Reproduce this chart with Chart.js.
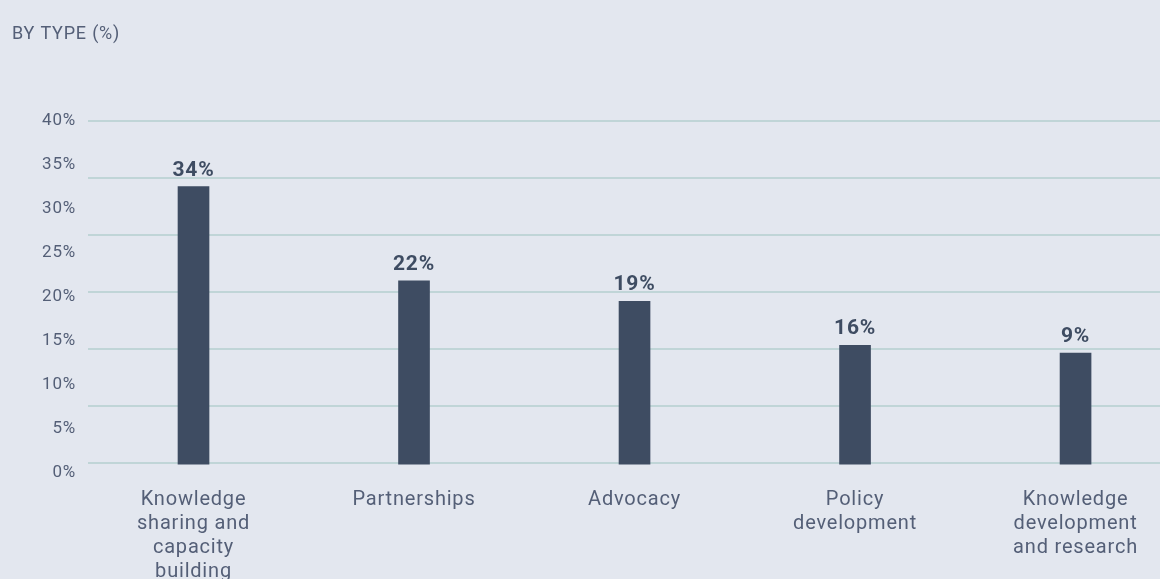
<!DOCTYPE html>
<html>
<head>
<meta charset="utf-8">
<script src="https://cdn.jsdelivr.net/npm/chart.js@4"></script>
<style>
  html, body { margin: 0; padding: 0; background: #e3e7ef; overflow: hidden; }
  #wrap { width: 1160px; height: 579px; }
</style>
</head>
<body>
<div id="wrap"><canvas id="chart"></canvas></div>
<script>
// categories shown under the bars
const categories = [
    ['Knowledge', 'sharing and', 'capacity', 'building'],
    ['Partnerships'],
    ['Advocacy'],
    ['Policy', 'development'],
    ['Knowledge', 'development', 'and research']
];
// printed values above the bars
const valueLabels = ['34%', '22%', '19%', '16%', '9%'];
// bar heights as drawn, read against the left % axis
const barHeights = [32.5, 21.8, 19.5, 14.5, 13.6];
const barBase = 1.0;
// left axis tick labels
const yTicks = [0, 5, 10, 15, 20, 25, 30, 35, 40];
// horizontal guide lines (separate, evenly spaced)
const guideLines = [0, 1, 2, 3, 4, 5, 6];

const BAR = '#3e4c62';
const TEXT = '#545f77';

const valueLabelPlugin = {
    id: 'valueLabels',
    beforeDraw(chart) {
        chart.ctx.letterSpacing = '0.8px';
    },
    afterDatasetsDraw(chart) {
        const ctx = chart.ctx;
        const meta = chart.getDatasetMeta(0);
        ctx.save();
        ctx.letterSpacing = '0.8px';
        ctx.font = 'bold 21px Roboto';
        ctx.fillStyle = BAR;
        ctx.textAlign = 'center';
        ctx.textBaseline = 'alphabetic';
        meta.data.forEach((bar, i) => {
            ctx.fillText(valueLabels[i], bar.x, bar.y - 11);
        });
        ctx.restore();
    }
};

new Chart(document.getElementById('chart'), {
    type: 'bar',
    data: {
        datasets: [{
            data: barHeights.map((h, i) => ({ x: i, y: h })),
            backgroundColor: BAR,
            barThickness: 31,
            base: barBase,
            xAxisID: 'x',
            yAxisID: 'y'
        }]
    },
    options: {
        responsive: true,
        maintainAspectRatio: false,
        animation: false,
        layout: { padding: { left: 12, right: 0, top: 0, bottom: 0 } },
        plugins: {
            legend: { display: false },
            tooltip: { enabled: false },
            title: {
                display: true,
                text: 'BY TYPE (%)',
                align: 'start',
                color: TEXT,
                font: { family: 'Roboto', size: 18, weight: 'normal', lineHeight: 1.2 },
                padding: { top: 24, bottom: 75 }
            }
        },
        scales: {
            x: {
                type: 'linear',
                offset: false,
                min: -0.4785,
                max: 4.383,
                grid: { display: false, drawTicks: false },
                border: { display: false },
                afterBuildTicks: (scale) => {
                    scale.ticks = categories.map((c, i) => ({ value: i }));
                },
                afterFit: (scale) => { scale.height = 106; },
                ticks: {
                    padding: 15,
                    color: TEXT,
                    font: { family: 'Roboto', size: 20, lineHeight: 1.2 },
                    maxRotation: 0,
                    autoSkip: false,
                    callback: (v) => categories[v]
                }
            },
            y: {
                position: 'left',
                min: 0,
                max: 40,
                grid: { display: false, drawTicks: false },
                border: { display: false },
                afterBuildTicks: (scale) => {
                    scale.ticks = yTicks.map(v => ({ value: v }));
                },
                afterFit: (scale) => { scale.width = 76; },
                ticks: {
                    padding: 12,
                    color: TEXT,
                    font: { family: 'Roboto', size: 17 },
                    callback: (v) => v + '%'
                }
            },
            grid: {
                position: 'right',
                min: -0.17,
                max: 6,
                grid: { color: '#c0d5d7', lineWidth: 2, drawTicks: false },
                border: { display: false },
                afterBuildTicks: (scale) => {
                    scale.ticks = guideLines.map(v => ({ value: v }));
                },
                afterFit: (scale) => { scale.width = 0; },
                ticks: { display: false }
            }
        }
    },
    plugins: [valueLabelPlugin]
});
</script>
</body>
</html>
